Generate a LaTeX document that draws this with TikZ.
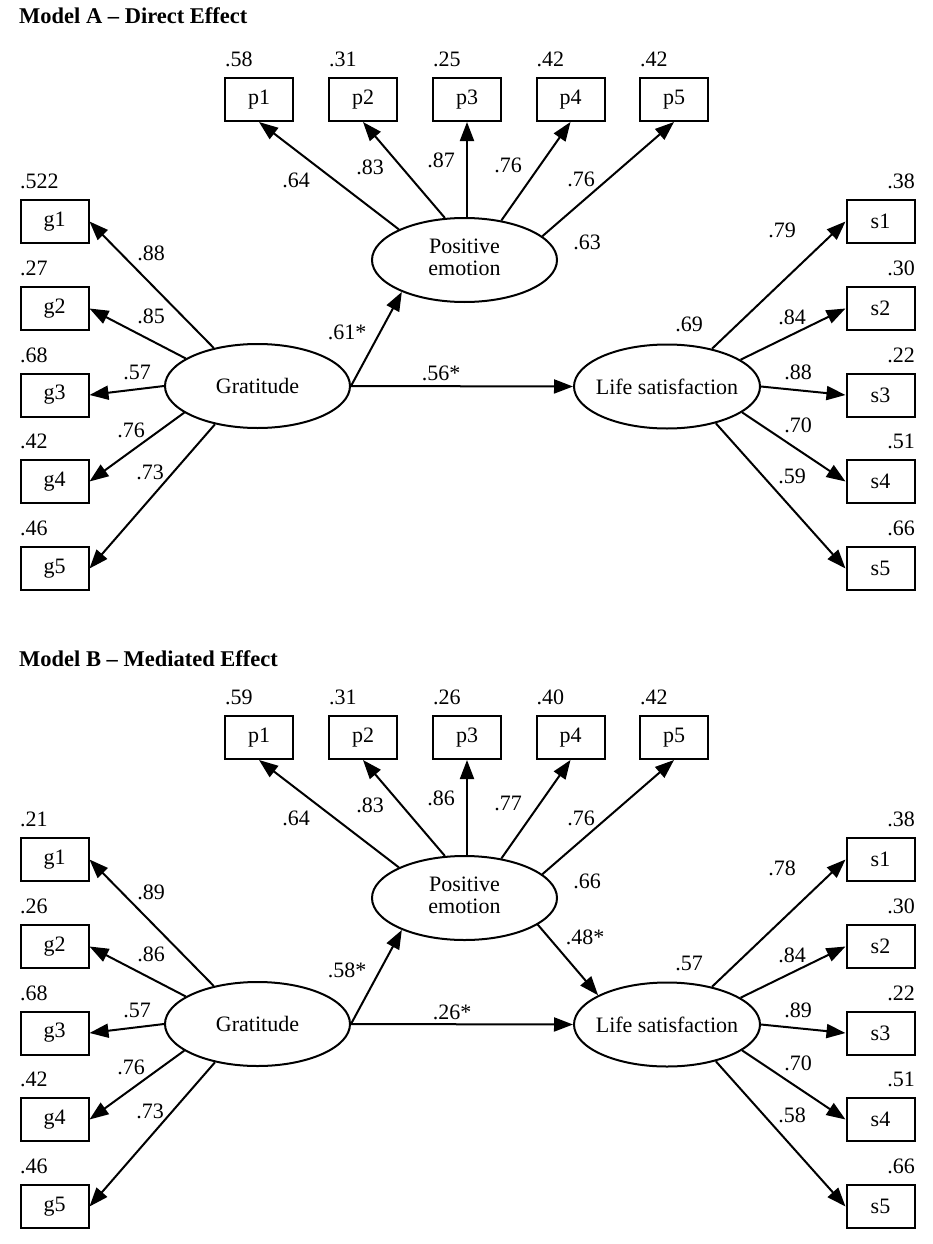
\documentclass[tikz,border=0pt]{standalone}
\usepackage{fontspec}
\setmainfont{Liberation Serif}
\usetikzlibrary{shapes.geometric,arrows.meta}
\begin{document}
\begin{tikzpicture}[x=1pt,y=-1pt,
  font=\fontsize{22}{22}\selectfont,
  ind/.style={draw, line width=2pt, minimum width=68pt, minimum height=43pt, inner sep=0pt},
  lat/.style={draw, ellipse, line width=2pt, inner sep=0pt, minimum width=185pt, minimum height=84pt},
  arr/.style={line width=2pt, -{Triangle[length=19pt,width=14pt]}},
  lbl/.style={inner sep=0pt, text height=15pt, text depth=0pt},
  ttl/.style={inner sep=0pt, font=\fontsize{22.5}{22}\selectfont\bfseries, anchor=base west}]
\useasboundingbox (0,0) rectangle (933,1244);

% ---------------- Model A ----------------
\node[ttl] (ta) at (19,24) {Model A -- Direct Effect};
\foreach \i/\x/\v in {1/259/.58, 2/363/.31, 3/467/.25, 4/570.5/.42, 5/674/.42} {
  \node[ind] (a-p\i) at (\x,99.5) {p\i};
  \node[lbl, anchor=west] (a-vp\i) at (\x-34,59) {\v};
}
\foreach \i/\y/\v/\w in {1/221.5/.522/.38, 2/308.5/.27/.30, 3/395/.68/.22, 4/481.5/.42/.51, 5/568.5/.46/.66} {
  \node[ind] (a-g\i) at (54.5,\y) {g\i};
  \node[lbl, anchor=west] (a-vg\i) at (20,\y-40.5) {\v};
  \node[ind] (a-s\i) at (880.5,\y) {s\i};
  \node[lbl, anchor=east] (a-vs\i) at (915,\y-40.5) {\w};
}
\node[lat] (a-pe) at (464.5,260) {\makebox[0pt]{\begin{tabular}{@{}c@{}}Positive\\emotion\end{tabular}}};
\node[lat] (a-gr) at (257.5,386) {\makebox[0pt]{Gratitude}};
\node[lat, minimum width=186pt] (a-ls) at (667,386.5) {\makebox[0pt]{Life satisfaction}};

\draw[arr] (a-pe.155) -- (a-p1.south);
\draw[arr] (a-pe.115) -- (a-p2.south);
\draw[arr] (a-pe.north -| a-p3.south) -- (a-p3.south);
\draw[arr] (a-pe.47) -- (a-p4.south);
\draw[arr] (a-pe.17) -- (a-p5.south);
\draw[arr] (a-gr.139) -- (a-g1.east);
\draw[arr] (a-gr.159) -- (a-g2.east);
\draw[arr] (a-gr.west) -- (a-g3.east);
\draw[arr] (a-gr.200) -- (a-g4.east);
\draw[arr] (a-gr.222) -- (a-g5.east);
\draw[arr] (a-ls.40) -- (a-s1.west);
\draw[arr] (a-ls.20) -- (a-s2.west);
\draw[arr] (a-ls.east) -- (a-s3.west);
\draw[arr] (a-ls.341) -- (a-s4.west);
\draw[arr] (a-ls.323) -- (a-s5.west);
\draw[arr] (a-gr.east) -- (a-pe.207);
\draw[arr] (a-gr.east) -- (a-ls.west);

\foreach \n/\x/\y/\t in {1/296/180/.64, 2/370/167/.83, 3/441/160/.87, 4/508/165/.76, 5/581/179/.76,
  6/587/242/.63, 7/782/230/.79, 8/792/317/.84, 9/798/372/.88, 10/798/425/.70, 11/792/476/.59,
  12/689/324/.69, 13/151/253/.88, 14/151/316/.85, 15/137/372/.57, 16/131/430/.76, 17/150/472/.73,
  18/347/332/.61*, 19/441/373/.56*} {
  \node[lbl] (a-l\n) at (\x,\y) {\t};
}

% ---------------- Model B ----------------
\node[ttl] (tb) at (19,666) {Model B -- Mediated Effect};
\begin{scope}[yshift=-638pt]
\foreach \i/\x/\v in {1/259/.59, 2/363/.31, 3/467/.26, 4/570.5/.40, 5/674/.42} {
  \node[ind] (b-p\i) at (\x,99.5) {p\i};
  \node[lbl, anchor=west] (b-vp\i) at (\x-34,59) {\v};
}
\foreach \i/\y/\v/\w in {1/221.5/.21/.38, 2/308.5/.26/.30, 3/395/.68/.22, 4/481.5/.42/.51, 5/568.5/.46/.66} {
  \node[ind] (b-g\i) at (54.5,\y) {g\i};
  \node[lbl, anchor=west] (b-vg\i) at (20,\y-40.5) {\v};
  \node[ind] (b-s\i) at (880.5,\y) {s\i};
  \node[lbl, anchor=east] (b-vs\i) at (915,\y-40.5) {\w};
}
\node[lat] (b-pe) at (464.5,260) {\makebox[0pt]{\begin{tabular}{@{}c@{}}Positive\\emotion\end{tabular}}};
\node[lat] (b-gr) at (257.5,386) {\makebox[0pt]{Gratitude}};
\node[lat, minimum width=186pt] (b-ls) at (667,386.5) {\makebox[0pt]{Life satisfaction}};

\draw[arr] (b-pe.155) -- (b-p1.south);
\draw[arr] (b-pe.115) -- (b-p2.south);
\draw[arr] (b-pe.north -| b-p3.south) -- (b-p3.south);
\draw[arr] (b-pe.47) -- (b-p4.south);
\draw[arr] (b-pe.17) -- (b-p5.south);
\draw[arr] (b-gr.139) -- (b-g1.east);
\draw[arr] (b-gr.159) -- (b-g2.east);
\draw[arr] (b-gr.west) -- (b-g3.east);
\draw[arr] (b-gr.200) -- (b-g4.east);
\draw[arr] (b-gr.222) -- (b-g5.east);
\draw[arr] (b-ls.40) -- (b-s1.west);
\draw[arr] (b-ls.20) -- (b-s2.west);
\draw[arr] (b-ls.east) -- (b-s3.west);
\draw[arr] (b-ls.341) -- (b-s4.west);
\draw[arr] (b-ls.323) -- (b-s5.west);
\draw[arr] (b-gr.east) -- (b-pe.207);
\draw[arr] (b-gr.east) -- (b-ls.west);
\draw[arr] (b-pe.340) -- (b-ls.157);

\foreach \n/\x/\y/\t in {1/296/180/.64, 2/370/167/.83, 3/441/160/.86, 4/508/165/.77, 5/581/180/.76,
  6/587/243/.66, 7/782/230/.78, 8/792/317/.84, 9/798/372/.89, 10/798/425/.70, 11/792/477/.58,
  12/689/325/.57, 13/151/254/.89, 14/151/316/.86, 15/137/372/.57, 16/131/429/.76, 17/150/473/.73,
  18/347/332/.58*, 19/452/374/.26*, 20/585/299/.48*} {
  \node[lbl] (b-l\n) at (\x,\y) {\t};
}
\end{scope}
\end{tikzpicture}
\end{document}
